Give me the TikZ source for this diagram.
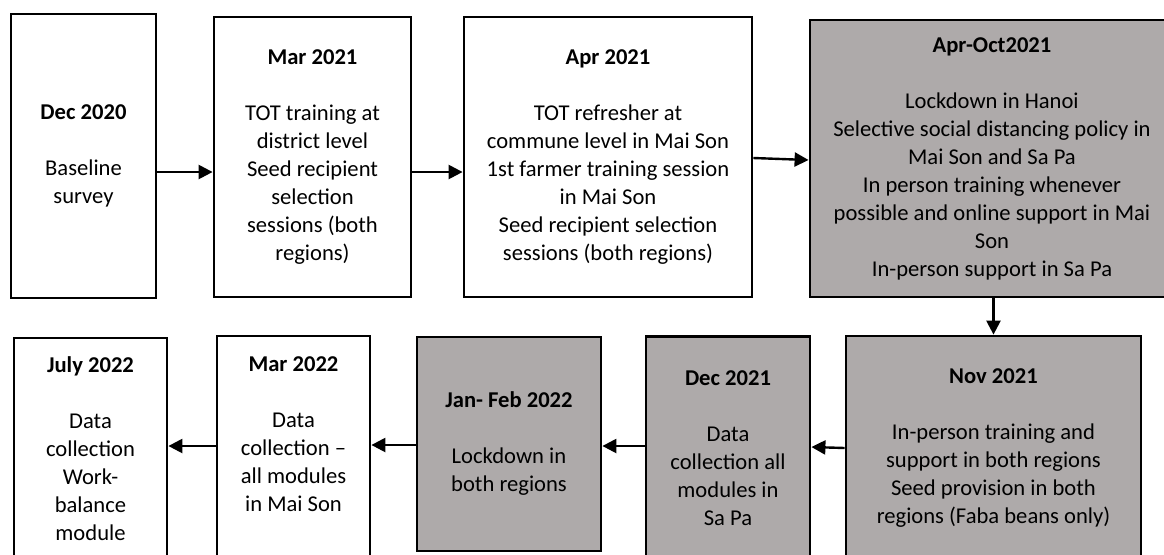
\documentclass[tikz,border=0pt]{standalone}
\usepackage{fontspec}
\setmainfont{Carlito}
\usepackage{tikz}
\usetikzlibrary{arrows.meta}
\definecolor{boxgrey}{HTML}{AEAAAA}
\tikzset{
    x=0.5pt, y=-0.5pt, % one unit is one pixel of the 1164x554 page
    box/.style={ % White event box
        draw,
        line width=1.4pt,
        fill=white,
        align=center,
        inner sep=2pt,
        font=\fontsize{11.3pt}{14pt}\selectfont
    },
    greybox/.style={ % Shaded box: period with lockdown or data collection
        box,
        fill=boxgrey
    },
    arr/.style={ % Connector between events
        draw,
        line width=1.2pt,
        -{Triangle[length=7pt,width=7pt]}
    }
}

\begin{document}
\begin{tikzpicture}
            \useasboundingbox (0,0) rectangle (1164,554);
            \clip (0,0) rectangle (1164,554);

            % first row, left to right
            \node[box, minimum width=72.5pt, minimum height=142pt] (dec20) at (83.5,156)
                {\textbf{Dec 2020}\\[14pt]Baseline\\survey};
            \node[box, minimum width=98.5pt, minimum height=140pt] (mar21) at (312.5,157)
                {\textbf{Mar 2021}\\[14pt]TOT training at\\district level\\Seed recipient\\selection\\sessions (both\\regions)};
            \node[box, minimum width=144pt, minimum height=140pt] (apr21) at (608,157)
                {\textbf{Apr 2021}\\[14pt]TOT refresher at\\commune level in Mai Son\\1st farmer training session\\in Mai Son\\Seed recipient selection\\sessions (both regions)};
            \node[greybox, minimum width=182pt, minimum height=138.5pt] (aproct) at (992,158.5)
                {\textbf{Apr-Oct2021}\\[14pt]Lockdown in Hanoi\\Selective social distancing policy in\\Mai Son and Sa Pa\\In person training whenever\\possible and online support in Mai\\Son\\In-person support in Sa Pa};

            % second row, right to left
            \node[greybox, minimum width=147.5pt, minimum height=112pt] (nov21) at (993.5,448)
                {\textbf{Nov 2021}\\[14pt]In-person training and\\support in both regions\\Seed provision in both\\regions (Faba beans only)};
            \node[greybox, minimum width=82pt, minimum height=111.5pt] (dec21) at (728,448)
                {\textbf{Dec 2021}\\[14pt]Data\\collection all\\modules in\\Sa Pa};
            \node[greybox, minimum width=92pt, minimum height=107pt] (janfeb) at (509,444)
                {\textbf{Jan- Feb 2022}\\[14pt]Lockdown in\\both regions};
            \node[box, minimum width=76.5pt, minimum height=112pt] (mar22) at (293.5,448)
                {\textbf{Mar 2022}\\[14pt]Data\\collection --\\all modules\\in Mai Son\\ \mbox{}};
            \node[box, minimum width=76.5pt, minimum height=111pt] (jul22) at (90.5,449)
                {\textbf{July 2022}\\[14pt]Data\\collection\\Work-\\balance\\module};

            \draw[arr] ([yshift=-8pt]dec20.east) -- ([yshift=-8pt]dec20.east -| mar21.west);
            \draw[arr] ([yshift=-7.5pt]mar21.east) -- ([yshift=-7.5pt]mar21.east -| apr21.west);
            \draw[arr] ([yshift=-0.5pt]apr21.east) -- ([yshift=-0.75pt]aproct.west);
            \draw[arr] (aproct.south -| nov21.north) -- (nov21.north);
            \draw[arr] (nov21.west) -- ([yshift=0.5pt]nov21.west -| dec21.east);
            \draw[arr] ([yshift=1pt]dec21.west) -- ([yshift=1pt]dec21.west -| janfeb.east);
            \draw[arr] ([yshift=-0.5pt]janfeb.west) -- ([yshift=-0.5pt]janfeb.west -| mar22.east);
            \draw[arr] ([yshift=1pt]mar22.west) -- ([yshift=1pt]mar22.west -| jul22.east);
        \end{tikzpicture}
\end{document}
